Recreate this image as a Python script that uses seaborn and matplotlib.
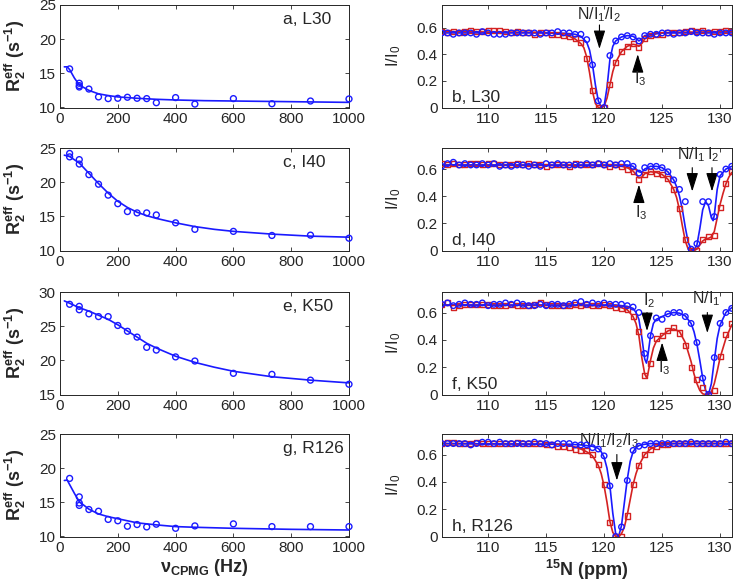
"""
CPMG relaxation dispersion (left) and CEST profiles (right) for four residues
"""
import matplotlib
matplotlib.use('Agg')
import matplotlib.pyplot as plt
import seaborn as sns
import numpy as np

# =============================================================================
# data
# =============================================================================
# CPMG frequencies (Hz) and R2eff (s-1), one set per residue
a_x = [33.3, 66.7, 66.7, 66.7, 100, 133.3, 166.7, 200, 233.3, 266.7, 300, 333.3, 400, 466.7, 600, 733.3, 866.7, 1000]
a_r2 = [15.65, 13.55, 13.2, 13.0, 12.7, 11.55, 11.3, 11.35, 11.5, 11.35, 11.3, 10.7, 11.45, 10.5, 11.3, 10.55, 10.95, 11.25]
a_fit_x = [15, 25, 33.3, 50, 66.7, 100, 133.3, 166.7, 200, 266.7, 333.3, 400, 500, 600, 800, 1000]
a_fit_y = [15.95, 15.95, 15.55, 14.3, 13.3, 12.5, 12.0, 11.75, 11.55, 11.35, 11.2, 11.1, 11.0, 10.95, 10.85, 10.75]

c_x = [33.3, 33.3, 66.7, 66.7, 100, 133.3, 166.7, 200, 233.3, 266.7, 300, 333.3, 400, 466.7, 600, 733.3, 866.7, 1000]
c_r2 = [24.2, 23.7, 23.3, 22.65, 21.1, 19.7, 18.1, 16.85, 15.7, 15.5, 15.5, 15.2, 14.05, 13.1, 12.8, 12.2, 12.25, 11.8]
c_fit_x = [15, 33.3, 66.7, 100, 133.3, 166.7, 200, 233.3, 266.7, 300, 333.3, 400, 466.7, 533.3, 600, 733.3, 866.7, 1000]
c_fit_y = [23.95, 23.75, 22.8, 21.3, 19.8, 18.4, 17.2, 16.3, 15.6, 15.1, 14.7, 14.05, 13.5, 13.1, 12.8, 12.4, 12.1, 11.95]

e_x = [33.3, 66.7, 66.7, 100, 133.3, 166.7, 200, 233.3, 266.7, 300, 333.3, 400, 466.7, 600, 733.3, 866.7, 1000]
e_r2 = [28.2, 27.9, 27.4, 26.8, 26.4, 26.4, 25.1, 24.25, 23.4, 21.9, 21.5, 20.5, 19.9, 18.1, 17.95, 17.1, 16.5]
e_fit_x = [15, 33.3, 66.7, 100, 133.3, 166.7, 200, 233.3, 266.7, 300, 333.3, 400, 466.7, 533.3, 600, 733.3, 866.7, 1000]
e_fit_y = [28.7, 28.35, 27.7, 27.2, 26.6, 26.0, 25.2, 24.3, 23.4, 22.5, 21.8, 20.6, 19.7, 19.0, 18.4, 17.6, 17.1, 16.7]

g_x = [33.3, 66.7, 66.7, 66.7, 100, 133.3, 166.7, 200, 233.3, 266.7, 300, 333.3, 400, 466.7, 600, 733.3, 866.7, 1000]
g_r2 = [18.5, 15.8, 14.9, 14.55, 13.95, 13.7, 12.5, 12.3, 11.5, 11.75, 11.4, 11.8, 11.2, 11.55, 11.85, 11.45, 11.45, 11.45]
g_fit_x = [15, 25, 33.3, 50, 66.7, 100, 133.3, 166.7, 200, 266.7, 333.3, 400, 466.7, 600, 800, 1000]
g_fit_y = [18.2, 18.25, 17.6, 16.3, 15.1, 14.0, 13.3, 12.9, 12.6, 12.0, 11.7, 11.45, 11.35, 11.2, 11.05, 10.95]

# CEST offsets (ppm), I/I0 for the two B1 fields (blue / red)
ppm = np.arange(106, 131.5, 0.5)

b_blue = [0.56, 0.56, 0.55, 0.56, 0.56, 0.56, 0.55, 0.57, 0.56, 0.55,
          0.55, 0.55, 0.56, 0.56, 0.56, 0.56, 0.56, 0.55, 0.56, 0.56,
          0.57, 0.56, 0.56, 0.55, 0.55, 0.51, 0.32, 0.05, 0.00, 0.39,
          0.50, 0.53, 0.54, 0.53, 0.50, 0.54, 0.55, 0.55, 0.56, 0.56,
          0.55, 0.56, 0.56, 0.57, 0.56, 0.56, 0.56, 0.55, 0.56, 0.56, 0.56]
b_red = [0.57, 0.56, 0.57, 0.56, 0.57, 0.58, 0.57, 0.57, 0.58, 0.58,
         0.58, 0.57, 0.56, 0.57, 0.56, 0.56, 0.55, 0.56, 0.56, 0.55,
         0.55, 0.54, 0.53, 0.52, 0.49, 0.37, 0.13, 0.00, 0.00, 0.17,
         0.34, 0.42, 0.46, 0.48, 0.45, 0.52, 0.54, 0.55, 0.55, 0.56,
         0.56, 0.56, 0.57, 0.58, 0.57, 0.58, 0.56, 0.57, 0.57, 0.58, 0.57]
b_fit_blue_x = [106, 116, 117, 117.5, 118, 118.5, 118.75, 119, 119.25, 119.5, 119.75, 120, 120.25, 120.5,
                120.75, 121, 121.5, 122, 122.5, 122.75, 123, 123.25, 123.5, 124, 124.5, 125, 131]
b_fit_blue_y = [0.56, 0.56, 0.555, 0.55, 0.535, 0.49, 0.43, 0.32, 0.17, 0.05, 0.005, 0.01, 0.15, 0.36,
                0.46, 0.50, 0.53, 0.54, 0.535, 0.52, 0.50, 0.515, 0.54, 0.55, 0.555, 0.56, 0.56]
b_fit_red_x = [106, 114, 115, 116, 116.5, 117, 117.5, 118, 118.25, 118.5, 118.75, 119, 119.25, 119.5, 119.75,
               120, 120.25, 120.5, 120.75, 121, 121.5, 122, 122.5, 122.75, 123, 123.25, 123.5, 124, 124.5,
               125, 126, 131]
b_fit_red_y = [0.57, 0.565, 0.56, 0.555, 0.545, 0.535, 0.515, 0.48, 0.45, 0.38, 0.26, 0.12, 0.03, 0.0, 0.0,
               0.01, 0.07, 0.17, 0.27, 0.34, 0.42, 0.46, 0.475, 0.47, 0.46, 0.48, 0.515, 0.54, 0.555,
               0.56, 0.565, 0.57]

d_blue = [0.62, 0.64, 0.65, 0.63, 0.64, 0.63, 0.63, 0.64, 0.63, 0.64,
          0.62, 0.63, 0.62, 0.63, 0.63, 0.62, 0.63, 0.62, 0.64, 0.63,
          0.64, 0.63, 0.63, 0.63, 0.63, 0.64, 0.63, 0.64, 0.63, 0.64,
          0.63, 0.64, 0.64, 0.62, 0.57, 0.61, 0.62, 0.62, 0.61, 0.58,
          0.52, 0.45, 0.36, 0.01, 0.05, 0.36, 0.36, 0.25, 0.56, 0.60, 0.62]
d_red = [0.64, 0.63, 0.64, 0.63, 0.63, 0.64, 0.64, 0.63, 0.64, 0.64,
         0.63, 0.63, 0.63, 0.64, 0.63, 0.64, 0.63, 0.63, 0.62, 0.63,
         0.63, 0.63, 0.62, 0.64, 0.63, 0.63, 0.63, 0.64, 0.63, 0.62,
         0.63, 0.62, 0.60, 0.58, 0.52, 0.56, 0.58, 0.57, 0.56, 0.53,
         0.45, 0.31, 0.08, 0.00, 0.00, 0.08, 0.10, 0.11, 0.32, 0.49, 0.58]
d_fit_blue_x = [106, 122, 122.5, 122.75, 123, 123.25, 123.5, 124, 124.5, 125, 125.5, 126, 126.25, 126.5,
                126.75, 127, 127.25, 127.5, 127.75, 128, 128.25, 128.5, 128.75, 129, 129.25, 129.4, 129.5,
                129.75, 130, 130.5, 131]
d_fit_blue_y = [0.63, 0.63, 0.62, 0.60, 0.58, 0.575, 0.60, 0.62, 0.62, 0.61, 0.58, 0.52, 0.47, 0.40,
                0.30, 0.17, 0.06, 0.01, 0.0, 0.04, 0.16, 0.30, 0.36, 0.33, 0.24, 0.22, 0.26,
                0.45, 0.55, 0.60, 0.62]
d_fit_red_x = [106, 121, 121.5, 122, 122.5, 122.75, 123, 123.25, 123.5, 124, 124.5, 125, 125.5, 126, 126.25,
               126.5, 126.75, 127, 127.25, 127.5, 127.75, 128, 128.25, 128.5, 128.75, 129, 129.25, 129.5,
               129.75, 130, 130.25, 130.5, 130.75, 131]
d_fit_red_y = [0.63, 0.625, 0.62, 0.61, 0.585, 0.56, 0.535, 0.54, 0.565, 0.58, 0.575, 0.56, 0.525, 0.45, 0.39,
               0.30, 0.18, 0.07, 0.01, 0.0, 0.0, 0.01, 0.04, 0.07, 0.085, 0.09, 0.10, 0.14,
               0.24, 0.34, 0.42, 0.49, 0.54, 0.575]

f_blue = [0.66, 0.67, 0.65, 0.66, 0.67, 0.66, 0.66, 0.67, 0.65, 0.66,
          0.66, 0.67, 0.66, 0.67, 0.66, 0.65, 0.65, 0.66, 0.65, 0.66,
          0.66, 0.65, 0.66, 0.67, 0.68, 0.66, 0.67, 0.66, 0.67, 0.66,
          0.66, 0.66, 0.65, 0.64, 0.60, 0.30, 0.43, 0.56, 0.55, 0.59,
          0.60, 0.60, 0.57, 0.52, 0.38, 0.12, 0.00, 0.27, 0.52, 0.60, 0.63]
f_red = [0.66, 0.67, 0.64, 0.65, 0.66, 0.66, 0.66, 0.66, 0.66, 0.65,
         0.65, 0.65, 0.66, 0.65, 0.65, 0.65, 0.66, 0.67, 0.66, 0.65,
         0.65, 0.65, 0.65, 0.66, 0.65, 0.66, 0.65, 0.65, 0.66, 0.65,
         0.64, 0.63, 0.62, 0.57, 0.46, 0.14, 0.23, 0.41, 0.43, 0.47,
         0.49, 0.45, 0.36, 0.20, 0.11, 0.05, 0.00, 0.03, 0.28, 0.44, 0.52]
f_fit_blue_x = [106, 121, 121.5, 122, 122.5, 122.75, 123, 123.25, 123.5, 123.65, 123.75, 124, 124.25, 124.5,
                124.75, 125, 125.5, 126, 126.5, 127, 127.5, 127.75, 128, 128.25, 128.5, 128.75, 129, 129.25,
                129.5, 129.75, 130, 130.5, 131]
f_fit_blue_y = [0.655, 0.655, 0.65, 0.645, 0.63, 0.60, 0.55, 0.42, 0.26, 0.23, 0.27, 0.43, 0.52, 0.55,
                0.56, 0.57, 0.59, 0.60, 0.595, 0.575, 0.52, 0.46, 0.37, 0.25, 0.12, 0.03, 0.0, 0.08,
                0.25, 0.41, 0.51, 0.60, 0.635]
f_fit_red_x = [106, 120.5, 121, 121.5, 122, 122.5, 122.75, 123, 123.25, 123.5, 123.65, 123.75, 124, 124.25,
               124.5, 125, 125.5, 126, 126.5, 127, 127.5, 127.75, 128, 128.25, 128.5, 128.75, 129, 129.25,
               129.5, 129.75, 130, 130.5, 131]
f_fit_red_y = [0.655, 0.65, 0.645, 0.635, 0.62, 0.57, 0.52, 0.43, 0.27, 0.15, 0.125, 0.14, 0.25, 0.34,
               0.39, 0.43, 0.465, 0.48, 0.46, 0.38, 0.24, 0.15, 0.08, 0.03, 0.005, 0.0, 0.0, 0.02,
               0.08, 0.17, 0.27, 0.41, 0.51]

h_blue = [0.68, 0.68, 0.68, 0.68, 0.68, 0.67, 0.68, 0.69, 0.69, 0.68,
          0.69, 0.68, 0.68, 0.68, 0.68, 0.68, 0.69, 0.68, 0.68, 0.67,
          0.68, 0.68, 0.68, 0.67, 0.67, 0.67, 0.65, 0.64, 0.59, 0.37,
          0.00, 0.07, 0.41, 0.63, 0.66, 0.67, 0.68, 0.68, 0.68, 0.68,
          0.68, 0.68, 0.68, 0.69, 0.68, 0.68, 0.68, 0.68, 0.68, 0.69, 0.68]
h_red = [0.68, 0.69, 0.69, 0.68, 0.68, 0.68, 0.69, 0.68, 0.68, 0.68,
         0.68, 0.68, 0.68, 0.69, 0.68, 0.68, 0.68, 0.68, 0.67, 0.67,
         0.66, 0.66, 0.65, 0.64, 0.63, 0.63, 0.60, 0.53, 0.38, 0.10,
         0.00, 0.00, 0.15, 0.38, 0.52, 0.60, 0.64, 0.66, 0.67, 0.67,
         0.68, 0.68, 0.68, 0.68, 0.68, 0.68, 0.68, 0.68, 0.68, 0.68, 0.68]
h_fit_blue_x = [106, 117, 118, 118.5, 119, 119.5, 119.75, 120, 120.25, 120.5, 120.75, 121, 121.25, 121.5,
                121.75, 122, 122.25, 122.5, 122.75, 123, 123.5, 124, 131]
h_fit_blue_y = [0.68, 0.675, 0.67, 0.665, 0.66, 0.645, 0.62, 0.58, 0.50, 0.37, 0.17, 0.02, 0.0, 0.08,
                0.25, 0.42, 0.55, 0.62, 0.65, 0.665, 0.675, 0.68, 0.68]
h_fit_red_x = [106, 116, 117, 117.5, 118, 118.5, 119, 119.5, 119.75, 120, 120.25, 120.5, 120.75, 121, 121.25,
               121.5, 121.75, 122, 122.25, 122.5, 122.75, 123, 123.5, 124, 124.5, 125, 126, 131]
h_fit_red_y = [0.68, 0.675, 0.665, 0.655, 0.64, 0.62, 0.59, 0.52, 0.46, 0.37, 0.25, 0.11, 0.03, 0.0, 0.0,
               0.02, 0.07, 0.16, 0.27, 0.38, 0.46, 0.52, 0.60, 0.64, 0.66, 0.67, 0.68, 0.68]

# =============================================================================
# style
# =============================================================================
sns.set_style('ticks')
plt.rcParams['font.family'] = ['Liberation Sans', 'DejaVu Sans']
plt.rcParams['mathtext.fontset'] = 'custom'
plt.rcParams['mathtext.rm'] = 'Liberation Sans'
plt.rcParams['mathtext.it'] = 'Liberation Sans:italic'
plt.rcParams['mathtext.bf'] = 'Liberation Sans:bold'
plt.rcParams['mathtext.default'] = 'regular'

BLUE = '#1a1aff'
RED = '#d42222'
AXC = '0.15'

fig = plt.figure(figsize=(7.36, 5.85), dpi=100)

tops = [5, 148, 292, 434]
H = 102.5


def make_ax(x0, x1, top):
    return fig.add_axes([x0 / 736, 1 - (top + H) / 585, (x1 - x0) / 736, H / 585])


def style(ax):
    ax.tick_params(direction='in', top=True, right=True, length=3, width=0.6,
                   labelsize=11, color=AXC, pad=3)
    for s in ax.spines.values():
        s.set_color(AXC)
        s.set_linewidth(0.7)


def arrow(ax, x, y_tail, y_tip):
    ax.annotate('', xy=(x, y_tip), xytext=(x, y_tail),
                arrowprops=dict(arrowstyle='-|>,head_length=1.15,head_width=0.36',
                                color='k', lw=0.8, shrinkA=0, shrinkB=0))


# =============================================================================
# left column: relaxation dispersion
# =============================================================================
left = [(a_x, a_r2, a_fit_x, a_fit_y, (10, 25), [10, 15, 20, 25], 'a, L30'),
        (c_x, c_r2, c_fit_x, c_fit_y, (10, 25), [10, 15, 20, 25], 'c, I40'),
        (e_x, e_r2, e_fit_x, e_fit_y, (15, 30), [15, 20, 25, 30], 'e, K50'),
        (g_x, g_r2, g_fit_x, g_fit_y, (10, 25), [10, 15, 20, 25], 'g, R126')]

for i, (x, y, fx, fy, ylim, yt, lab) in enumerate(left):
    ax = make_ax(60, 349, tops[i])
    sns.lineplot(x=fx, y=fy, ax=ax, color=BLUE, lw=1.2, estimator=None, sort=False)
    sns.scatterplot(x=x, y=y, ax=ax, marker='o', s=18, facecolor='none',
                    edgecolor=BLUE, linewidth=1.0, zorder=3, clip_on=False)
    ax.set_xlim(0, 1000)
    ax.set_ylim(*ylim)
    ax.set_xticks([0, 200, 400, 600, 800, 1000])
    ax.set_yticks(yt)
    style(ax)
    ax.set_ylabel(r'$\mathbf{R_2^{eff}}$ $\mathbf{(s^{-1})}$', fontsize=13)
    ax.yaxis.set_label_coords(-0.112, 0.5)
    ax.text(0.772, 0.935, lab, transform=ax.transAxes, ha='left', va='top', fontsize=12.5)
    if i == 3:
        ax.set_xlabel(r'$\mathbf{\nu_{CPMG}}$ (Hz)', fontsize=13, fontweight='bold', labelpad=2)
    else:
        ax.set_xlabel('')

# =============================================================================
# right column: CEST profiles
# =============================================================================
right = [(b_blue, b_red, b_fit_blue_x, b_fit_blue_y, b_fit_red_x, b_fit_red_y, 0.77, 'b, L30'),
         (d_blue, d_red, d_fit_blue_x, d_fit_blue_y, d_fit_red_x, d_fit_red_y, 0.755, 'd, I40'),
         (f_blue, f_red, f_fit_blue_x, f_fit_blue_y, f_fit_red_x, f_fit_red_y, 0.75, 'f, K50'),
         (h_blue, h_red, h_fit_blue_x, h_fit_blue_y, h_fit_red_x, h_fit_red_y, 0.75, 'h, R126')]

rax = []
for i, (yb, yr, fbx, fby, frx, fry, ytop, lab) in enumerate(right):
    ax = make_ax(441.7, 731.7, tops[i])
    sns.lineplot(x=frx, y=fry, ax=ax, color=RED, lw=1.2, estimator=None, sort=False)
    sns.lineplot(x=fbx, y=fby, ax=ax, color=BLUE, lw=1.2, estimator=None, sort=False)
    sns.scatterplot(x=ppm, y=yr, ax=ax, marker='s', s=13, facecolor='none',
                    edgecolor=RED, linewidth=1.0, zorder=3)
    sns.scatterplot(x=ppm, y=yb, ax=ax, marker='o', s=16, facecolor='none',
                    edgecolor=BLUE, linewidth=1.0, zorder=4)
    ax.set_xlim(106, 131)
    ax.set_ylim(0, ytop)
    ax.set_xticks([110, 115, 120, 125, 130])
    ax.set_yticks([0, 0.2, 0.4, 0.6])
    ax.set_yticklabels(['0', '0.2', '0.4', '0.6'])
    style(ax)
    ax.set_ylabel('I/I$_0$', fontsize=12)
    ax.yaxis.set_label_coords(-0.133, 0.5)
    ax.text(0.036, 0.05, lab, transform=ax.transAxes, ha='left', va='baseline', fontsize=12.5)
    if i == 3:
        ax.set_xlabel(r'$\mathbf{^{15}N}$ (ppm)', fontsize=13, fontweight='bold', labelpad=2)
    else:
        ax.set_xlabel('')
    rax.append(ax)

# arrows and labels of the states
fs = 11.5
ax = rax[0]
ax.text(119.6, 0.665, 'N/I$_1$/I$_2$', ha='center', va='baseline', fontsize=fs)
arrow(ax, 119.6, 0.62, 0.44)
arrow(ax, 122.9, 0.30, 0.40)
ax.text(123.1, 0.285, 'I$_3$', ha='center', va='top', fontsize=fs)

ax = rax[1]
arrow(ax, 123.0, 0.36, 0.485)
ax.text(123.2, 0.345, 'I$_3$', ha='center', va='top', fontsize=fs)
ax.text(127.5, 0.675, 'N/I$_1$', ha='center', va='baseline', fontsize=fs)
arrow(ax, 127.6, 0.61, 0.435)
ax.text(129.4, 0.675, 'I$_2$', ha='center', va='baseline', fontsize=fs)
arrow(ax, 129.3, 0.61, 0.435)

ax = rax[2]
ax.text(123.85, 0.655, 'I$_2$', ha='center', va='baseline', fontsize=fs)
arrow(ax, 123.7, 0.60, 0.465)
arrow(ax, 125.0, 0.28, 0.38)
ax.text(125.2, 0.265, 'I$_3$', ha='center', va='top', fontsize=fs)
ax.text(128.8, 0.67, 'N/I$_1$', ha='center', va='baseline', fontsize=fs)
arrow(ax, 128.9, 0.60, 0.45)

ax = rax[3]
ax.text(120.4, 0.67, 'N/I$_1$/I$_2$/I$_3$', ha='center', va='baseline', fontsize=fs, clip_on=False)
arrow(ax, 121.1, 0.60, 0.41)

fig.savefig('out.png', dpi=100)
